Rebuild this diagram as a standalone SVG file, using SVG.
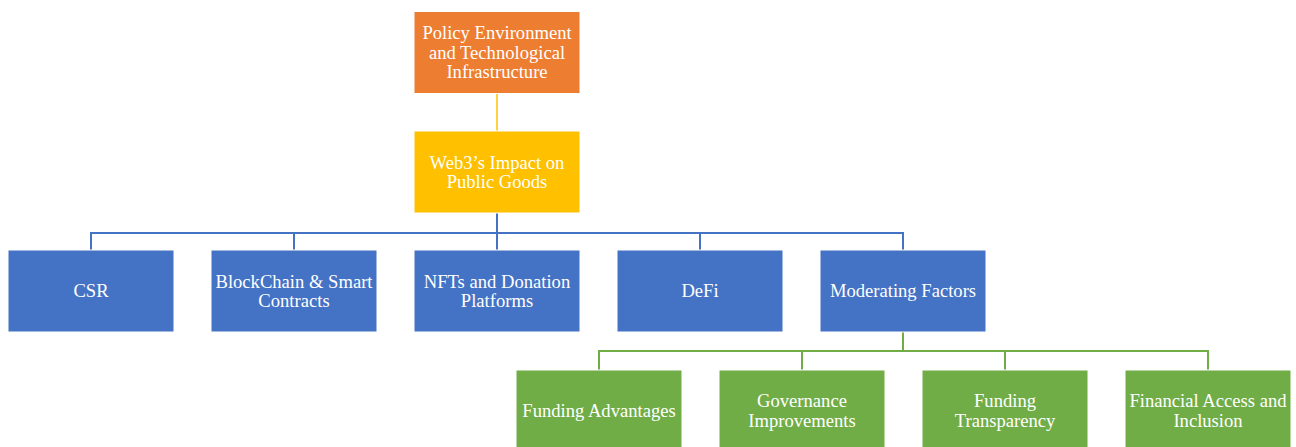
<svg xmlns="http://www.w3.org/2000/svg" width="1296" height="447" viewBox="0 0 1296 447">
  <style>
    .box { stroke: #ffffff; stroke-width: 1; }
    .orange { fill: #ED7D31; }
    .yellow { fill: #FFC000; }
    .blue { fill: #4472C4; }
    .green { fill: #70AD47; }
    .lbl { font-family: "Liberation Serif", "Times New Roman", serif; font-size: 18.6px; fill: #ffffff; text-anchor: middle; }
    .conn { fill: none; stroke-width: 2; }
    .c-yellow { stroke: #FFC000; stroke-width: 1.5; }
    .c-blue { stroke: #4472C4; }
    .c-green { stroke: #70AD47; }
  </style>
  <rect width="1296" height="447" fill="#ffffff"/>

  <g id="connectors">
    <path class="conn c-yellow" d="M497 94 V131"/>
    <path class="conn c-blue" d="M497 213 V233 M91 233 H903 M91 232 V250 M294 233 V250 M497 233 V250 M700 233 V250 M903 232 V250"/>
    <path class="conn c-green" d="M903 332 V351 M599 351 H1208 M599 350 V370 M802 351 V370 M1005 351 V370 M1208 350 V370"/>
  </g>

  <g id="policy">
    <rect class="box orange" x="414" y="11.5" width="166" height="82"/>
    <text class="lbl" x="497" y="39">Policy Environment</text>
    <text class="lbl" x="497" y="58.5">and Technological</text>
    <text class="lbl" x="497" y="78">Infrastructure</text>
  </g>

  <g id="web3">
    <rect class="box yellow" x="414" y="131" width="166" height="82"/>
    <text class="lbl" x="497" y="168.5">Web3’s Impact on</text>
    <text class="lbl" x="497" y="188">Public Goods</text>
  </g>

  <g id="csr">
    <rect class="box blue" x="8" y="250" width="166" height="82"/>
    <text class="lbl" x="91" y="297">CSR</text>
  </g>

  <g id="blockchain">
    <rect class="box blue" x="211" y="250" width="166" height="82"/>
    <text class="lbl" x="294" y="287.5">BlockChain &amp; Smart</text>
    <text class="lbl" x="294" y="307">Contracts</text>
  </g>

  <g id="nfts">
    <rect class="box blue" x="414" y="250" width="166" height="82"/>
    <text class="lbl" x="497" y="287.5">NFTs and Donation</text>
    <text class="lbl" x="497" y="307">Platforms</text>
  </g>

  <g id="defi">
    <rect class="box blue" x="617" y="250" width="166" height="82"/>
    <text class="lbl" x="700" y="297">DeFi</text>
  </g>

  <g id="moderating">
    <rect class="box blue" x="820" y="250" width="166" height="82"/>
    <text class="lbl" x="903" y="297">Moderating Factors</text>
  </g>

  <g id="funding-advantages">
    <rect class="box green" x="516" y="370" width="166" height="82"/>
    <text class="lbl" x="599" y="416.5">Funding Advantages</text>
  </g>

  <g id="governance">
    <rect class="box green" x="719" y="370" width="166" height="82"/>
    <text class="lbl" x="802" y="407">Governance</text>
    <text class="lbl" x="802" y="426.5">Improvements</text>
  </g>

  <g id="funding-transparency">
    <rect class="box green" x="922" y="370" width="166" height="82"/>
    <text class="lbl" x="1005" y="407">Funding</text>
    <text class="lbl" x="1005" y="426.5">Transparency</text>
  </g>

  <g id="financial-access">
    <rect class="box green" x="1125" y="370" width="166" height="82"/>
    <text class="lbl" x="1208" y="407">Financial Access and</text>
    <text class="lbl" x="1208" y="426.5">Inclusion</text>
  </g>
</svg>
